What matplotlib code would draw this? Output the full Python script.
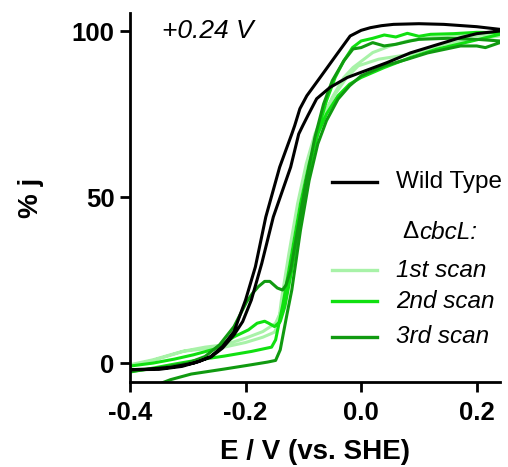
import numpy as np
import matplotlib
matplotlib.use('Agg')
import matplotlib.pyplot as plt

plt.rcParams['font.family'] = ['Liberation Sans', 'DejaVu Sans']
plt.rcParams['axes.unicode_minus'] = False

# Wild type CV (two branches, normalised %)
wt_up_E = [-0.40, -0.35, -0.31, -0.28, -0.26, -0.24, -0.22, -0.20, -0.183, -0.165, -0.141, -0.12, -0.115,
           -0.106, -0.094, -0.071, -0.042, -0.019, 0.0, 0.016, 0.035, 0.056, 0.10, 0.143, 0.20, 0.24]
wt_up_j = [-2.0, -1.9, -1.0, 0.5, 2.0, 5.0, 9.5, 19, 29, 44, 59, 69, 71.5,
           76.6, 80.5, 86, 93, 98.5, 100.2, 101, 101.6, 102, 102.2, 102, 101.3, 100.5]
wt_dn_E = [0.24, 0.20, 0.172, 0.13, 0.085, 0.045, 0.016, -0.024, -0.054, -0.077, -0.092, -0.101, -0.108,
           -0.122, -0.152, -0.172, -0.19, -0.205, -0.22, -0.24, -0.26, -0.29, -0.33, -0.37, -0.40]
wt_dn_j = [100, 99.2, 98, 95.8, 93.4, 90.5, 88.6, 86, 83, 79.6, 74.6, 71.5, 69,
           59, 44, 30, 19, 12.5, 8.5, 4.5, 1.8, 0, -1.3, -1.8, -2.0]

# dcbcL 1st scan
s1_fwd_E = [-0.40, -0.36, -0.306, -0.27, -0.237, -0.20, -0.17, -0.15, -0.143, -0.138, -0.125, -0.11, -0.095,
            -0.08, -0.065, -0.045, -0.025, -0.005, 0.03, 0.085, 0.143, 0.20, 0.24]
s1_fwd_j = [-0.9, 0.8, 3.6, 4.3, 4.8, 6.2, 7.8, 9.3, 12, 19, 33, 48, 60,
            69, 75, 81, 86, 89.5, 91.5, 93, 96, 97.5, 98.5]
s1_rev_E = [0.24, 0.18, 0.12, 0.08, 0.05, 0.02, -0.014, -0.03, -0.05, -0.07, -0.09, -0.105, -0.12,
            -0.135, -0.148, -0.17, -0.20, -0.237, -0.27, -0.31, -0.36, -0.40]
s1_rev_j = [99, 98.5, 98, 97, 95.5, 93.5, 89, 86, 80, 72, 59, 45, 30,
            17, 12, 9.5, 7.5, 5.5, 4.8, 3.5, 1.0, -0.5]

# dcbcL 2nd scan
s2_fwd_E = [-0.40, -0.36, -0.323, -0.28, -0.237, -0.19, -0.155, -0.148, -0.135, -0.12, -0.105, -0.09, -0.075,
            -0.06, -0.04, -0.02, 0.0, 0.04, 0.085, 0.13, 0.18, 0.24]
s2_fwd_j = [-2.7, -1.5, -0.3, 1.0, 2.1, 3.5, 4.8, 7, 18, 33, 48, 60, 69,
            75, 80.5, 84, 86, 89, 92, 94.5, 96.5, 99]
s2_rev_E = [0.24, 0.20, 0.16, 0.12, 0.10, 0.08, 0.06, 0.04, 0.02, 0.0, -0.015, -0.03, -0.045, -0.06,
            -0.075, -0.09, -0.105, -0.12, -0.132, -0.14, -0.15, -0.16, -0.167, -0.18, -0.195, -0.219,
            -0.254, -0.29, -0.323, -0.36, -0.40]
s2_rev_j = [99.5, 99.6, 99.2, 99, 98.4, 99.3, 98.2, 98.8, 97.8, 97, 95, 91, 86, 79,
            70, 58, 43, 28, 17, 12.5, 11, 12, 12.6, 12, 10, 8,
            4.2, 2.5, 1.2, 0, -0.9]

# dcbcL 3rd scan
s3_fwd_E = [-0.345, -0.33, -0.294, -0.237, -0.19, -0.162, -0.148, -0.14, -0.128, -0.12, -0.105, -0.09, -0.075,
            -0.06, -0.04, -0.02, 0.0, 0.04, 0.08, 0.115, 0.172, 0.20, 0.215, 0.24]
s3_fwd_j = [-6, -5, -3.3, -1.8, -0.5, 0.3, 0.8, 4, 15, 22, 40, 55, 66,
            73, 79.5, 83.5, 86.5, 89.5, 91.5, 93.4, 95.5, 95.5, 95, 96.5]
s3_rev_E = [0.24, 0.20, 0.15, 0.10, 0.085, 0.06, 0.04, 0.02, 0.0, -0.014, -0.03, -0.05, -0.065, -0.08,
            -0.095, -0.11, -0.122, -0.13, -0.136, -0.145, -0.158, -0.167, -0.178, -0.188, -0.198,
            -0.22, -0.245, -0.27, -0.30, -0.35, -0.40]
s3_rev_j = [97, 97.5, 97.8, 97.5, 97, 96, 95.5, 96.5, 95, 94.6, 91, 85, 78, 68,
            55, 40, 28, 23.5, 22, 22.6, 24.6, 24.6, 23, 21, 18.5,
            11, 5.5, 2, 0, -1.5, -2.5]

labels = ['Wild Type', '1st scan', '2nd scan', '3rd scan']
c_wt = 'black'
c_s1 = '#a8f2a8'
c_s2 = '#10e010'
c_s3 = '#109a10'

fig = plt.figure(figsize=(5.08, 4.67), dpi=100)
ax = fig.add_axes([0.2559, 0.182, 0.728, 0.79])

lw = 2.2
for fE, fj, rE, rj, c in [(s1_fwd_E, s1_fwd_j, s1_rev_E, s1_rev_j, c_s1),
                          (s2_fwd_E, s2_fwd_j, s2_rev_E, s2_rev_j, c_s2),
                          (s3_fwd_E, s3_fwd_j, s3_rev_E, s3_rev_j, c_s3),
                          (wt_up_E, wt_up_j, wt_dn_E, wt_dn_j, c_wt)]:
    ax.plot(fE + rE, fj + rj, color=c, lw=lw, solid_joinstyle='round')

ax.set_xlim(-0.4, 0.24)
ax.set_ylim(-5.7, 105.4)
ax.set_xticks([-0.4, -0.2, 0.0, 0.2])
ax.set_xticklabels(['-0.4', '-0.2', '0.0', '0.2'])
ax.set_yticks([0, 50, 100])
for s in ['top', 'right']:
    ax.spines[s].set_visible(False)
for s in ['left', 'bottom']:
    ax.spines[s].set_linewidth(2.0)
ax.tick_params(direction='out', length=7, width=2.0, labelsize=18.5)
ax.tick_params(axis='x', pad=7)
ax.tick_params(axis='y', pad=4)
for lab in ax.get_xticklabels() + ax.get_yticklabels():
    lab.set_fontweight('bold')

ax.set_xlabel('E / V (vs. SHE)', fontsize=20, fontweight='bold', labelpad=10)
ax.set_ylabel('% j', fontsize=20, fontweight='bold', labelpad=20)

ax.text(0.087, 0.951, '+0.24 V', transform=ax.transAxes, fontsize=19, style='italic',
        ha='left', va='center')

# legend drawn by hand (uneven spacing like the original)
leg_y = [0.542, 0.303, 0.219, 0.122]
for lab, c, y in zip(labels, [c_wt, c_s1, c_s2, c_s3], leg_y):
    ax.plot([0.546, 0.668], [y, y], color=c, lw=2.4, transform=ax.transAxes, clip_on=False)
    ax.text(0.72, y, lab, transform=ax.transAxes, fontsize=17.5, va='center', ha='left',
            style='normal' if lab == 'Wild Type' else 'italic')
ax.text(0.735, 0.4065, '\u0394', transform=ax.transAxes, fontsize=17.5, va='center', ha='left')
ax.text(0.782, 0.4065, 'cbcL:', transform=ax.transAxes, fontsize=17.5, va='center', ha='left',
        style='italic')

fig.savefig('out.png', dpi=100)
